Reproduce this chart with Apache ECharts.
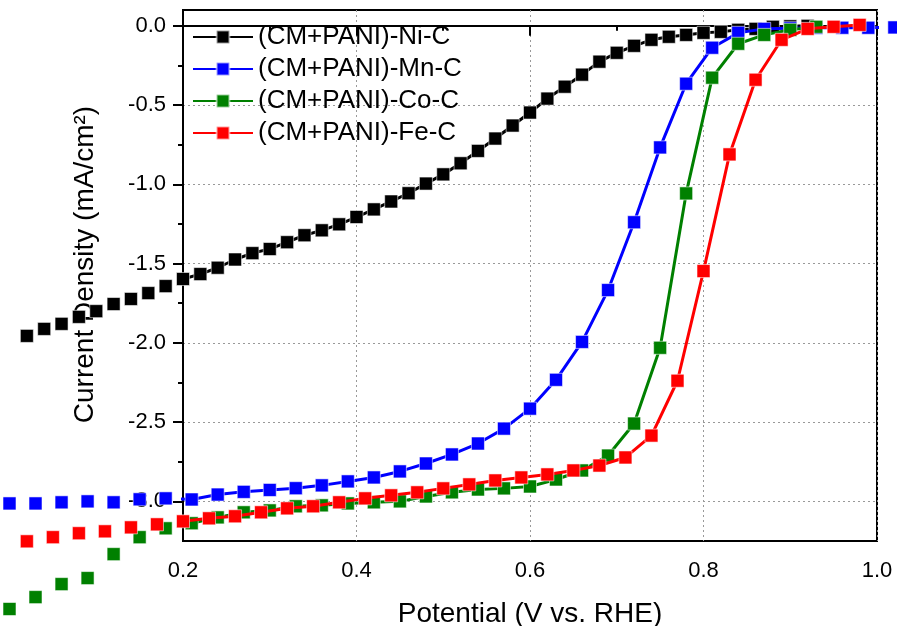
<!DOCTYPE html>
<html>
<head>
<meta charset="utf-8">
<script src="https://cdn.jsdelivr.net/npm/echarts@6/dist/echarts.min.js"></script>
<style>html,body{margin:0;padding:0;background:#fff}#c{width:897px;height:626px}</style>
</head>
<body>
<div id="c"></div>
<script>
var seriesNames = ['(CM+PANI)-Ni-C', '(CM+PANI)-Mn-C', '(CM+PANI)-Co-C', '(CM+PANI)-Fe-C'];
var seriesColors = ['#000000', '#0000ff', '#008000', '#ff0000'];

var xNi = [0.02,0.04,0.06,0.08,0.10,0.12,0.14,0.16,0.18,0.20,0.22,0.24,0.26,0.28,0.30,0.32,0.34,0.36,0.38,0.40,0.42,0.44,0.46,0.48,0.50,0.52,0.54,0.56,0.58,0.60,0.62,0.64,0.66,0.68,0.70,0.72,0.74,0.76,0.78,0.80,0.82,0.84,0.86,0.88,0.90,0.92];
var yNi = [-1.956,-1.912,-1.880,-1.836,-1.800,-1.755,-1.723,-1.686,-1.642,-1.597,-1.566,-1.526,-1.474,-1.434,-1.408,-1.365,-1.321,-1.290,-1.252,-1.206,-1.158,-1.108,-1.056,-0.995,-0.937,-0.867,-0.789,-0.711,-0.629,-0.547,-0.459,-0.384,-0.308,-0.226,-0.170,-0.126,-0.088,-0.069,-0.057,-0.044,-0.038,-0.025,-0.019,-0.006,-0.003,0.000];

var xMn = [0.00,0.03,0.06,0.09,0.12,0.15,0.18,0.21,0.24,0.27,0.30,0.33,0.36,0.39,0.42,0.45,0.48,0.51,0.54,0.57,0.60,0.63,0.66,0.69,0.72,0.75,0.78,0.81,0.84,0.87,0.90,0.93,0.96,0.99,1.02];
var yMn = [-3.013,-3.013,-3.006,-3.000,-3.006,-2.987,-2.981,-2.988,-2.957,-2.940,-2.928,-2.917,-2.899,-2.874,-2.849,-2.811,-2.761,-2.704,-2.635,-2.541,-2.415,-2.233,-1.994,-1.667,-1.239,-0.767,-0.365,-0.138,-0.044,-0.019,-0.015,-0.012,-0.012,-0.012,-0.010];

var xCo = [0.00,0.03,0.06,0.09,0.12,0.15,0.18,0.21,0.24,0.27,0.30,0.33,0.36,0.39,0.42,0.45,0.48,0.51,0.54,0.57,0.60,0.63,0.66,0.69,0.72,0.75,0.78,0.81,0.84,0.87,0.90,0.93];
var yCo = [-3.679,-3.604,-3.522,-3.484,-3.333,-3.226,-3.170,-3.138,-3.101,-3.069,-3.057,-3.031,-3.025,-3.013,-3.006,-3.000,-2.969,-2.943,-2.925,-2.918,-2.906,-2.862,-2.805,-2.711,-2.509,-2.031,-1.057,-0.327,-0.113,-0.057,-0.025,-0.006];

var xFe = [0.02,0.05,0.08,0.11,0.14,0.17,0.20,0.23,0.26,0.29,0.32,0.35,0.38,0.41,0.44,0.47,0.50,0.53,0.56,0.59,0.62,0.65,0.68,0.71,0.74,0.77,0.80,0.83,0.86,0.89,0.92,0.95,0.98];
var yFe = [-3.252,-3.226,-3.201,-3.189,-3.164,-3.145,-3.126,-3.107,-3.094,-3.069,-3.044,-3.031,-3.006,-2.981,-2.962,-2.943,-2.918,-2.893,-2.868,-2.849,-2.830,-2.805,-2.774,-2.723,-2.585,-2.239,-1.547,-0.811,-0.340,-0.088,-0.019,-0.006,0.006];

var xTicks = [0.2, 0.4, 0.6, 0.8, 1.0];
var yMajorTicks = [-3.0, -2.5, -2.0, -1.5, -1.0, -0.5, 0.0];
var yMinorTicks = [-2.75, -2.25, -1.75, -1.25, -0.75, -0.25];

var xs = [xNi, xMn, xCo, xFe];
var ys = [yNi, yMn, yCo, yFe];

var FONT = "'Liberation Sans', Arial, sans-serif";

function pairs(x, y) { return x.map(function (v, i) { return [v, y[i]]; }); }

var series = seriesNames.map(function (n, i) {
  return {
    name: n,
    type: 'line',
    data: pairs(xs[i], ys[i]),
    clip: false,
    symbol: 'rect',
    symbolSize: 13,
    showSymbol: true,
    lineStyle: { color: seriesColors[i], width: 3 },
    itemStyle: { color: seriesColors[i], borderColor: 'rgba(255,255,255,0.55)', borderWidth: 1 },
    emphasis: { disabled: true },
    animation: false,
    z: 2 + i
  };
});

var chart = echarts.init(document.getElementById('c'), null, { renderer: 'canvas' });
chart.setOption({
  backgroundColor: '#ffffff',
  animation: false,
  textStyle: { fontFamily: FONT },
  grid: { left: 183, right: 20, top: 10, bottom: 85, show: true, borderColor: '#000', borderWidth: 2, backgroundColor: 'transparent', containLabel: false, outerBoundsMode: 'none' },
  legend: {
    orient: 'vertical',
    left: 187,
    top: 19,
    itemWidth: 60,
    itemHeight: 16,
    itemGap: 6,
    data: seriesNames,
    textStyle: { fontFamily: FONT, fontSize: 26, color: '#000', lineHeight: 26 }
  },
  xAxis: {
    type: 'value',
    min: 0.2, max: 1.0, interval: 0.2,
    name: 'Potential (V vs. RHE)',
    nameLocation: 'middle',
    nameGap: 59,
    nameTextStyle: { fontFamily: FONT, fontSize: 28, color: '#000' },
    axisLine: { show: true, lineStyle: { color: '#000', width: 2 } },
    axisTick: { show: true, inside: false, length: 10, lineStyle: { color: '#000', width: 2 } },
    minorTick: { show: true, splitNumber: 2, length: 5, lineStyle: { color: '#000', width: 2 } },
    axisLabel: { fontFamily: FONT, fontSize: 22, color: '#000', margin: 19, formatter: function (v) { return v.toFixed(1); } },
    splitLine: { show: true, lineStyle: { color: '#999', type: [2, 3], width: 1 } }
  },
  yAxis: [{
    type: 'value',
    min: -3.25, max: 0.1,
    name: 'Current Density (mA/cm\u00B2)',
    nameLocation: 'middle',
    nameGap: 84,
    nameTextStyle: { fontFamily: FONT, fontSize: 28, color: '#000', padding: [0, 0, 0, 22] },
    axisLine: { show: true, lineStyle: { color: '#000', width: 2 } },
    axisTick: { show: true, inside: false, length: 10, customValues: yMajorTicks, lineStyle: { color: '#000', width: 2 } },
    axisLabel: { fontFamily: FONT, fontSize: 22, color: '#000', margin: 17, customValues: yMajorTicks, formatter: function (v) { return v.toFixed(1); } },
    splitLine: { show: true, lineStyle: { color: '#999', type: [2, 3], width: 1 } }
  }, {
    type: 'value',
    min: -3.25, max: 0.1,
    position: 'left',
    axisLine: { show: false },
    axisTick: { show: true, inside: false, length: 5, customValues: yMinorTicks, lineStyle: { color: '#000', width: 2 } },
    axisLabel: { show: false },
    splitLine: { show: false }
  }],
  series: series
});
</script>
</body>
</html>
